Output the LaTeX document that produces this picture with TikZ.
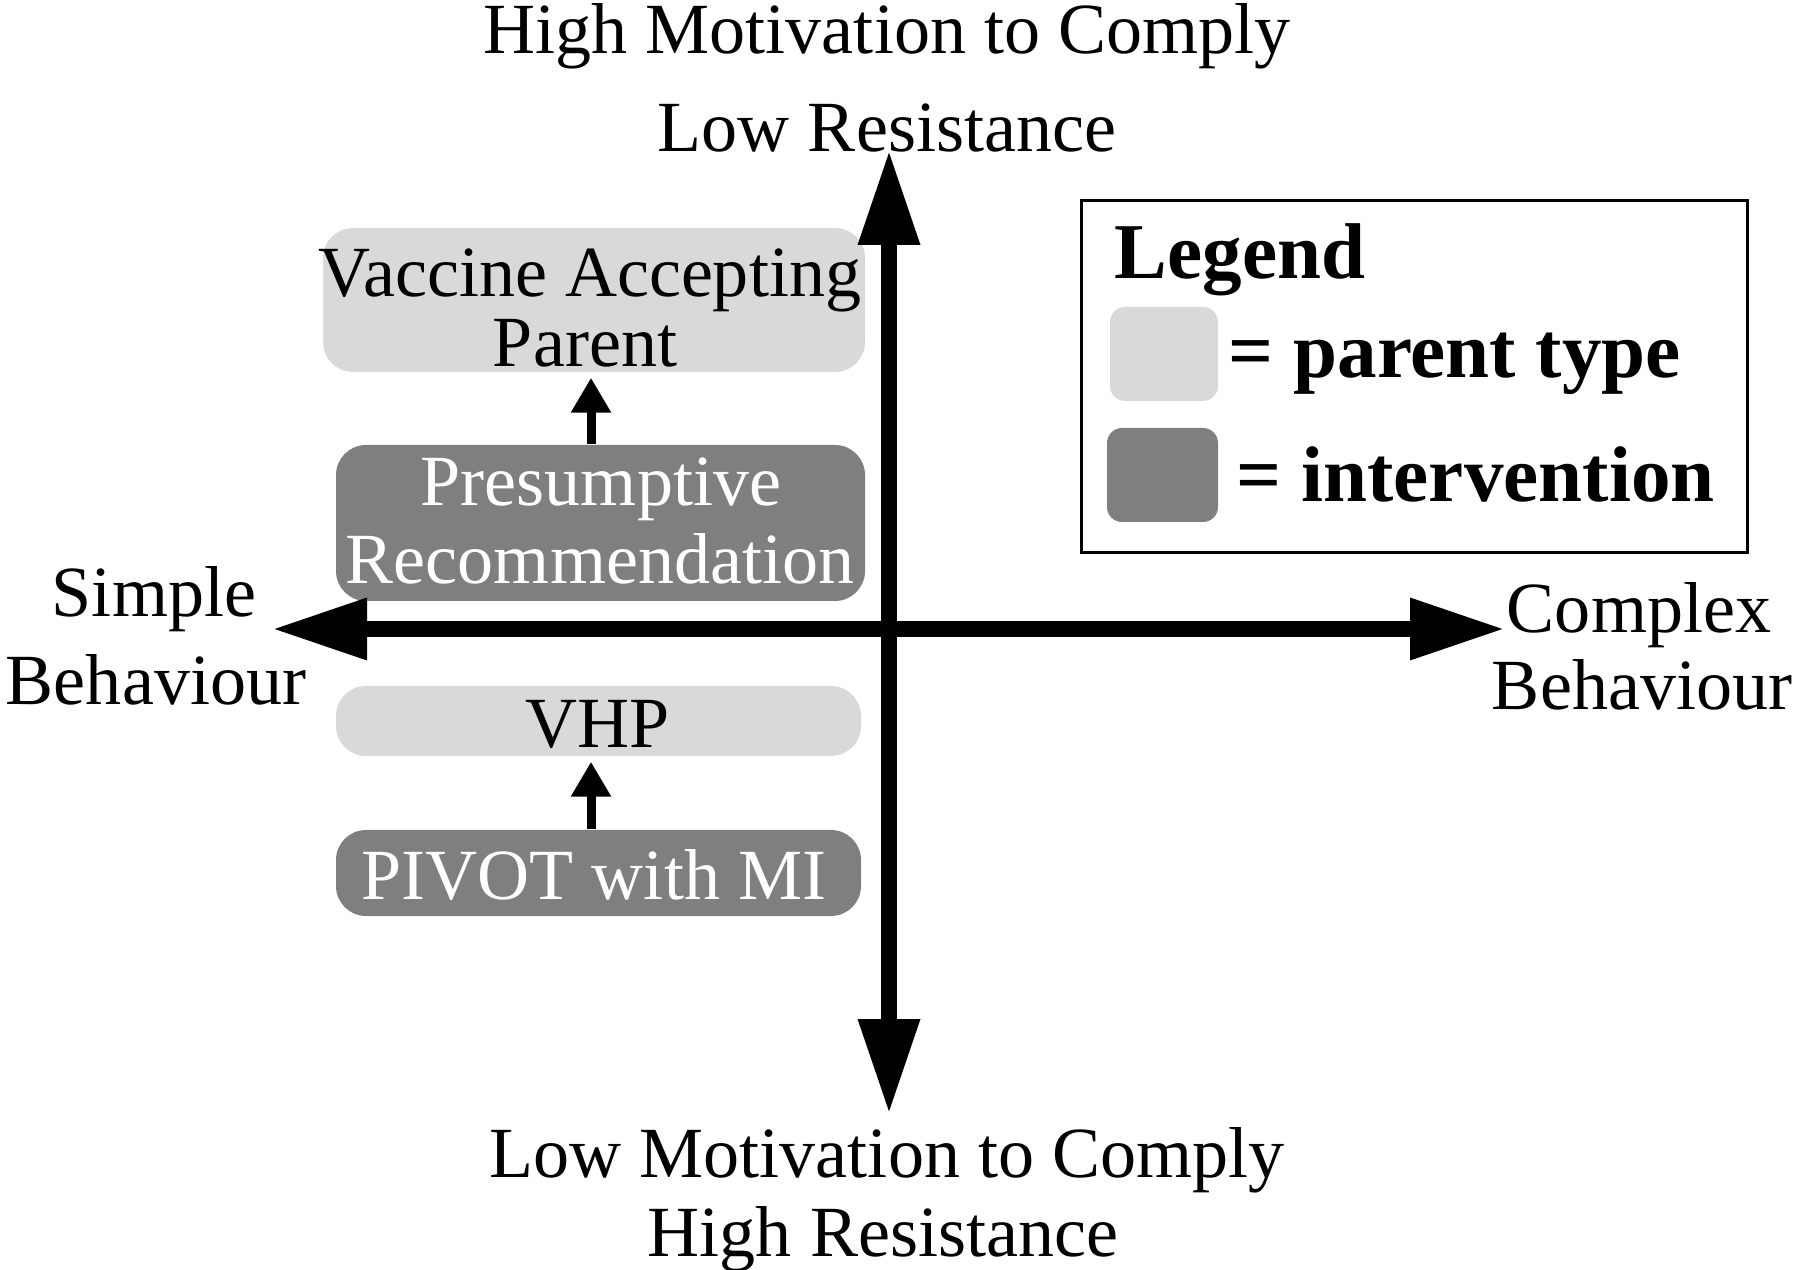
\documentclass[tikz,border=0pt]{standalone}
\usepackage{fontspec}
\setmainfont{Liberation Serif}
\usetikzlibrary{arrows.meta}
\definecolor{ptypegray}{HTML}{D9D9D9}
\definecolor{intgray}{HTML}{7F7F7F}
\tikzset{
  lbl/.style={font=\fontsize{20.5}{24}\selectfont, inner sep=0pt, anchor=base},
  wlbl/.style={lbl, text=white},
  leglbl/.style={font=\fontsize{22.5}{24}\selectfont\bfseries, inner sep=0pt, anchor=base west},
  ptypebox/.style={fill=ptypegray, rounded corners=3mm, inner sep=0pt},
  intbox/.style={fill=intgray, rounded corners=3mm, inner sep=0pt},
  axisarrow/.style={line width=1.6mm, {Triangle[length=9.5mm,width=5.8mm]}-{Triangle[length=9.5mm,width=5.8mm]}},
  smallarrow/.style={line width=0.9mm, -{Triangle[length=3.5mm,width=3.8mm]}, shorten >=0.5mm},
}
\begin{document}
\begin{tikzpicture}[x=0.1mm, y=-0.1mm]
\useasboundingbox (0,0) rectangle (1800,1270);

% boxes
\node[ptypebox, minimum width=54.2mm, minimum height=14.4mm] (vap) at (594,300) {};
\node[intbox, minimum width=52.9mm, minimum height=15.6mm] (pres) at (600.5,523) {};
\node[ptypebox, minimum width=52.5mm, minimum height=7.0mm] (vhp) at (598.5,721) {};
\node[intbox, minimum width=52.5mm, minimum height=8.6mm] (pivot) at (598.5,873) {};

% box texts
\node[lbl] (vap1) at (590,297) {Vaccine Accepting};
\node[lbl] (vap2) at (585,367) {Parent};
\node[wlbl] (pres1) at (601,506) {Presumptive};
\node[wlbl] (pres2) at (600,584) {Recommendation};
\node[lbl] (vhpt) at (598,748) {VHP};
\node[wlbl] (pivt) at (594,899) {PIVOT with MI};

% small arrows
\draw[smallarrow] (pres.north -| 591,0) -- (vap.south -| 591,0);
\draw[smallarrow] (pivot.north -| 591,0) -- (vhp.south -| 591,0);

% axes
\coordinate (top) at (889,150);
\coordinate (bot) at (889,1114);
\coordinate (lft) at (272,629);
\coordinate (rgt) at (1505,629);
\draw[axisarrow] (bot) -- (top);
\draw[axisarrow] (lft) -- (rgt);

% axis labels
\node[lbl] (hm) at (887,54) {High Motivation to Comply};
\node[lbl] (lr) at (887,152) {Low Resistance};
\node[lbl] (lm) at (887,1177) {Low Motivation to Comply};
\node[lbl] (hr) at (883,1256) {High Resistance};
\node[lbl] (s1) at (154,617) {Simple};
\node[lbl] (s2) at (156,705) {Behaviour};
\node[lbl] (c1) at (1639,633) {Complex};
\node[lbl] (c2) at (1642,710) {Behaviour};

% legend
\node[draw, line width=0.3mm, minimum width=66.6mm, minimum height=35.2mm, inner sep=0pt] (legend) at (1414,377) {};
\node[leglbl] (legt) at (1114,279) {Legend};
\node[fill=ptypegray, rounded corners=1.5mm, minimum width=10.8mm, minimum height=9.4mm, inner sep=0pt] (sw1) at (1164,354) {};
\node[fill=intgray, rounded corners=1.5mm, minimum width=11.1mm, minimum height=9.4mm, inner sep=0pt] (sw2) at (1162.5,475) {};
\node[leglbl] (leg1) at (1228,378) {= parent type};
\node[leglbl] (leg2) at (1236,502) {= intervention};
\end{tikzpicture}
\end{document}
